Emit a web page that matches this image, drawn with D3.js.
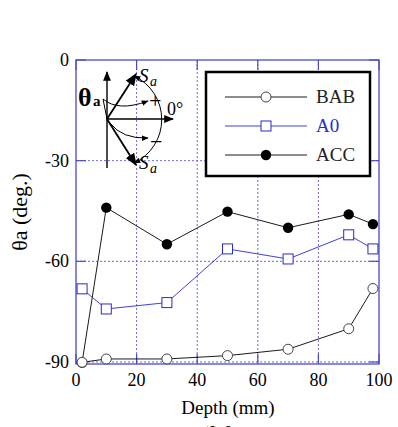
<!doctype html>
<html>
<head>
<meta charset="utf-8">
<title>theta a vs depth</title>
<script src="https://cdnjs.cloudflare.com/ajax/libs/d3/7.8.5/d3.min.js"></script>
<style>
  body { margin: 0; background: #fff; }
</style>
</head>
<body>
<div id="chart"></div>
<script>
// data
const depthBAB = [2, 10, 30, 50, 70, 90, 98];
const thetaBAB = [-90.1, -89.1, -89.1, -88.1, -86.2, -80.1, -68.1];
const depthA0 = [2, 10, 30, 50, 70, 90, 98];
const thetaA0 = [-68.2, -74.2, -72.3, -56.3, -59.3, -52.1, -56.3];
const depthACC = [2, 10, 30, 50, 70, 90, 98];
const thetaACC = [-90.2, -44.0, -54.9, -45.2, -50.0, -46.0, -48.9];
const xTicks = [0, 20, 40, 60, 80, 100];
const yTicks = [0, -30, -60, -90];

const W = 398, H = 427;
const frame = "#4b4bc4";
const svg = d3.select("#chart").append("svg")
  .attr("width", W).attr("height", H)
  .attr("font-family", "Liberation Serif");

const x = d3.scaleLinear().domain([0, 100]).range([76, 379]);
const y = d3.scaleLinear().domain([-90.6, 0]).range([364, 60]);

// grid (dotted)
svg.append("g").selectAll("line").data([20, 40, 60, 80]).join("line")
  .attr("x1", d => x(d)).attr("x2", d => x(d))
  .attr("y1", y(0)).attr("y2", y(-90.6))
  .attr("stroke", "#6a6ad8").attr("stroke-width", 1)
  .attr("stroke-dasharray", "2,2");
svg.append("g").selectAll("line").data([-30, -60, -90]).join("line")
  .attr("x1", x(0)).attr("x2", x(100))
  .attr("y1", d => y(d)).attr("y2", d => y(d))
  .attr("stroke", "#6a6ad8").attr("stroke-width", 1)
  .attr("stroke-dasharray", "2,2");

// inward ticks on all four sides
const tk = 10;
const ticksG = svg.append("g").attr("stroke", frame).attr("stroke-width", 1.2);
xTicks.forEach(t => {
  ticksG.append("line").attr("x1", x(t)).attr("x2", x(t)).attr("y1", y(-90.6)).attr("y2", y(-90.6) - tk);
  ticksG.append("line").attr("x1", x(t)).attr("x2", x(t)).attr("y1", y(0)).attr("y2", y(0) + tk);
});
yTicks.forEach(t => {
  ticksG.append("line").attr("x1", x(0)).attr("x2", x(0) + tk).attr("y1", y(t)).attr("y2", y(t));
  ticksG.append("line").attr("x1", x(100)).attr("x2", x(100) - tk).attr("y1", y(t)).attr("y2", y(t));
});

// frame
svg.append("rect")
  .attr("x", x(0)).attr("y", y(0))
  .attr("width", x(100) - x(0)).attr("height", y(-90.6) - y(0))
  .attr("fill", "none").attr("stroke", frame).attr("stroke-width", 1.3);

// tick labels
svg.append("g").selectAll("text").data(xTicks).join("text")
  .attr("x", d => x(d)).attr("y", 386)
  .attr("text-anchor", "middle").attr("font-size", 18)
  .text(d => d);
svg.append("g").selectAll("text").data(yTicks).join("text")
  .attr("x", 69).attr("y", d => y(d) + 6)
  .attr("text-anchor", "end").attr("font-size", 18)
  .text(d => d);

// axis titles
svg.append("text").attr("x", 228).attr("y", 414)
  .attr("text-anchor", "middle").attr("font-size", 19).text("Depth (mm)");
svg.append("text")
  .attr("transform", "translate(27,212) rotate(-90)")
  .attr("text-anchor", "middle").attr("font-size", 22).text("θa (deg.)");
svg.append("text").attr("x", 222).attr("y", 438)
  .attr("text-anchor", "middle").attr("font-size", 17).attr("font-weight", "bold")
  .text("(f) θa");

// series
const series = [
  { name: "ACC", xs: depthACC, ys: thetaACC, color: "#000", mark: "dot" },
  { name: "A0", xs: depthA0, ys: thetaA0, color: "#2a2ad0", mark: "square" },
  { name: "BAB", xs: depthBAB, ys: thetaBAB, color: "#000", mark: "circle" }
];
const line = d3.line().x(d => x(d[0])).y(d => y(d[1]));

function drawMark(g, mark, color, cx, cy) {
  if (mark === "dot") {
    g.append("circle").attr("cx", cx).attr("cy", cy).attr("r", 5.2).attr("fill", "#000");
  } else if (mark === "circle") {
    g.append("circle").attr("cx", cx).attr("cy", cy).attr("r", 5)
      .attr("fill", "#fff").attr("stroke", "#444").attr("stroke-width", 1);
  } else {
    g.append("rect").attr("x", cx - 5).attr("y", cy - 5).attr("width", 10).attr("height", 10)
      .attr("fill", "#fff").attr("stroke", color).attr("stroke-width", 1);
  }
}

series.forEach(s => {
  const pts = s.xs.map((d, i) => [d, s.ys[i]]);
  svg.append("path").datum(pts).attr("d", line)
    .attr("fill", "none").attr("stroke", s.color).attr("stroke-width", 0.9);
  const g = svg.append("g");
  pts.forEach(p => drawMark(g, s.mark, s.color, x(p[0]), y(p[1])));
});

// legend
const lg = svg.append("g");
lg.append("rect").attr("x", 206).attr("y", 72).attr("width", 164).attr("height", 104)
  .attr("fill", "#fff").attr("stroke", "#000").attr("stroke-width", 2.5);
[
  { name: "BAB", color: "#000", text: "#222", mark: "circle", ly: 97 },
  { name: "A0", color: "#2a2ad0", text: "#2a2ad0", mark: "square", ly: 126 },
  { name: "ACC", color: "#000", text: "#222", mark: "dot", ly: 155 }
].forEach(e => {
  lg.append("line").attr("x1", 225).attr("x2", 307).attr("y1", e.ly).attr("y2", e.ly)
    .attr("stroke", e.color).attr("stroke-width", 0.9);
  drawMark(lg, e.mark, e.color, 266, e.ly);
  lg.append("text").attr("x", 316).attr("y", e.ly + 6).attr("font-size", 19)
    .attr("fill", e.text).text(e.name);
});

// inset sketch of the angle convention
const ins = svg.append("g").attr("fill", "none").attr("stroke", "#000");
const defs = svg.append("defs");
defs.append("marker").attr("id", "ah").attr("viewBox", "0 0 10 10")
  .attr("refX", 9).attr("refY", 5).attr("markerWidth", 7).attr("markerHeight", 7)
  .attr("orient", "auto-start-reverse")
  .append("path").attr("d", "M0,1 L10,5 L0,9 Z").attr("fill", "#000").attr("stroke", "none");
const ox = 107, oy = 119;
ins.append("line").attr("x1", ox).attr("y1", 168).attr("x2", ox).attr("y2", 72)
  .attr("stroke-width", 1.4).attr("marker-end", "url(#ah)");
ins.append("line").attr("x1", ox).attr("y1", oy).attr("x2", 173).attr("y2", oy)
  .attr("stroke-width", 1.4).attr("marker-end", "url(#ah)");
ins.append("line").attr("x1", ox).attr("y1", oy).attr("x2", 136).attr("y2", 74)
  .attr("stroke-width", 1.8).attr("marker-end", "url(#ah)");
ins.append("line").attr("x1", ox).attr("y1", oy).attr("x2", 136).attr("y2", 165)
  .attr("stroke-width", 1.8).attr("marker-end", "url(#ah)");
// big arc between the two Sa tips
ins.append("path").attr("d", "M134,76 A48,48 0 0 1 134,163")
  .attr("stroke-width", 1).attr("marker-start", "url(#ah)").attr("marker-end", "url(#ah)");
// + and - curved arrows
ins.append("path").attr("d", "M103,99 Q118,112 148,101")
  .attr("stroke-width", 1).attr("marker-end", "url(#ah)");
ins.append("path").attr("d", "M110,123 Q122,139 148,138")
  .attr("stroke-width", 1).attr("marker-end", "url(#ah)");
ins.append("line").attr("x1", 103).attr("y1", 99).attr("x2", ox).attr("y2", oy).attr("stroke-width", 1);

const it = svg.append("g");
it.append("text").attr("x", 78).attr("y", 106).attr("font-size", 26).attr("font-weight", "bold").text("θ");
it.append("text").attr("x", 93).attr("y", 106).attr("font-size", 15).attr("font-weight", "bold").text("a");
it.append("text").attr("x", 149).attr("y", 108).attr("font-size", 22).text("+");
it.append("text").attr("x", 150).attr("y", 149).attr("font-size", 22).text("−");
it.append("text").attr("x", 167).attr("y", 115).attr("font-size", 18).text("0°");
it.append("text").attr("x", 139).attr("y", 82).attr("font-size", 19).attr("font-style", "italic").text("S");
it.append("text").attr("x", 150).attr("y", 86).attr("font-size", 14).attr("font-style", "italic").text("a");
it.append("text").attr("x", 139).attr("y", 169).attr("font-size", 19).attr("font-style", "italic").text("S");
it.append("text").attr("x", 150).attr("y", 173).attr("font-size", 14).attr("font-style", "italic").text("a");
</script>
</body>
</html>
